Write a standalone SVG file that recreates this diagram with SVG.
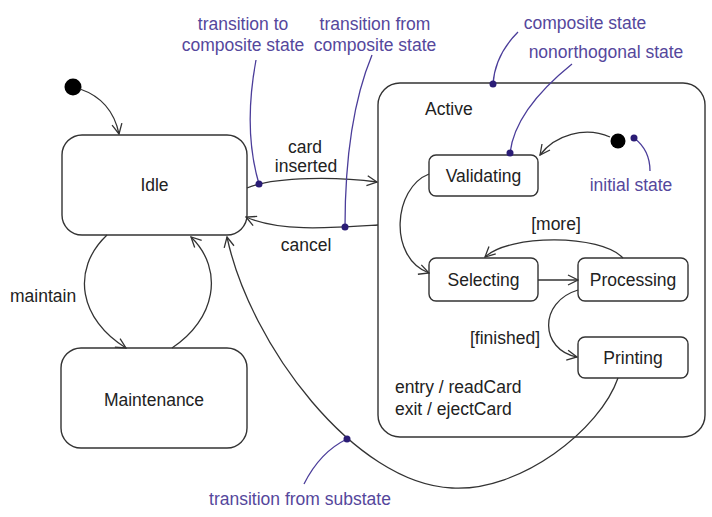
<svg xmlns="http://www.w3.org/2000/svg" width="712" height="517" viewBox="0 0 712 517">
<defs>
<style>
.st{fill:#fff;stroke:#333;stroke-width:1.4}
.t{font-family:"Liberation Sans",Arial,sans-serif;font-size:17.5px;fill:#222}
.c{text-anchor:middle}
.n{font-family:"Liberation Sans",Arial,sans-serif;font-size:17.5px;fill:#55479c;text-anchor:middle}
.e{fill:none;stroke:#333;stroke-width:1.3}
.a{fill:none;stroke:#4b3d9a;stroke-width:1.3}
.d{fill:#2a1c75}
</style>
<marker id="arr" viewBox="0 0 12 12" refX="11" refY="6" markerWidth="12" markerHeight="12" markerUnits="userSpaceOnUse" orient="auto">
<path d="M1 1 L11 6 L1 11" fill="none" stroke="#333" stroke-width="1.3"/>
</marker>
</defs>
<rect width="712" height="517" fill="#fff"/>

<g id="Idle"><rect class="st" x="62" y="135" width="185" height="100" rx="20"/><text class="t c" x="154.5" y="191">Idle</text></g>
<g id="Maintenance"><rect class="st" x="61" y="348" width="186" height="100" rx="20"/><text class="t c" x="154" y="406">Maintenance</text></g>
<g id="Active"><rect class="st" x="378" y="83" width="327" height="354" rx="22"/><text class="t" x="425" y="115">Active</text><text class="t" x="395" y="393">entry / readCard</text><text class="t" x="395" y="415">exit / ejectCard</text></g>
<g id="Validating"><rect class="st" x="429" y="155" width="109" height="41" rx="7"/><text class="t c" x="483.5" y="182">Validating</text></g>
<g id="Selecting"><rect class="st" x="429" y="258" width="109" height="43" rx="7"/><text class="t c" x="483.5" y="286">Selecting</text></g>
<g id="Processing"><rect class="st" x="578" y="258" width="110" height="43" rx="7"/><text class="t c" x="633" y="286">Processing</text></g>
<g id="Printing"><rect class="st" x="578" y="337" width="110" height="41" rx="7"/><text class="t c" x="633" y="364">Printing</text></g>
<g id="Initial"><circle cx="73" cy="87" r="8.5" fill="#000"/></g>
<g id="InitialInner"><circle cx="618" cy="141" r="7.5" fill="#000"/></g>

<g id="connectors">
<path class="e" d="M80 89 Q112 100 119 134" marker-end="url(#arr)"/>
<path class="e" d="M247 188 C275 176 340 177 377 182" marker-end="url(#arr)"/>
<path class="e" d="M378 225 C330 228 280 232 246 217" marker-end="url(#arr)"/>
<path class="e" d="M107 235 C70 270 80 320 126 348" marker-end="url(#arr)"/>
<path class="e" d="M172 348 C215 320 225 270 191 237" marker-end="url(#arr)"/>
<path class="e" d="M618 378 C600 430 520 492 452 488 C355 484 250 345 227 237" marker-end="url(#arr)"/>
<path class="e" d="M610 137 C585 126 555 135 540 155" marker-end="url(#arr)"/>
<path class="e" d="M429 174 C393 188 388 258 429 273" marker-end="url(#arr)"/>
<path class="e" d="M538 280 L578 280" marker-end="url(#arr)"/>
<path class="e" d="M623 258 C600 234 510 234 485 257" marker-end="url(#arr)"/>
<path class="e" d="M578 290 C538 302 540 350 577 357" marker-end="url(#arr)"/>
<text class="t c" x="305" y="153">card</text>
<text class="t c" x="306" y="172">inserted</text>
<text class="t c" x="306" y="251">cancel</text>
<text class="t" x="10" y="302">maintain</text>
<text class="t c" x="556" y="230">[more]</text>
<text class="t c" x="505" y="344">[finished]</text>
</g>

<g id="annotations">
<path class="a" d="M256 60 Q243 130 259 184"/>
<circle class="d" cx="259" cy="184" r="3.5"/>
<text class="n" x="243" y="30">transition to</text>
<text class="n" x="243" y="51">composite state</text>
<path class="a" d="M372 55 Q345 120 345 227"/>
<circle class="d" cx="345" cy="227" r="3.5"/>
<text class="n" x="375" y="30">transition from</text>
<text class="n" x="375" y="51">composite state</text>
<path class="a" d="M518 32 Q495 55 493 84"/>
<circle class="d" cx="493" cy="84" r="3.5"/>
<text class="n" x="585" y="29">composite state</text>
<path class="a" d="M572 64 Q515 110 510 153"/>
<circle class="d" cx="510" cy="153" r="3.5"/>
<text class="n" x="606" y="58">nonorthogonal state</text>
<path class="a" d="M634 138 Q650 150 650 171"/>
<circle class="d" cx="634" cy="138" r="3.5"/>
<text class="n" x="631" y="191">initial state</text>
<path class="a" d="M347 439 Q320 452 304 484"/>
<circle class="d" cx="347" cy="439" r="3.5"/>
<text class="n" x="300" y="505">transition from substate</text>
</g>
</svg>
